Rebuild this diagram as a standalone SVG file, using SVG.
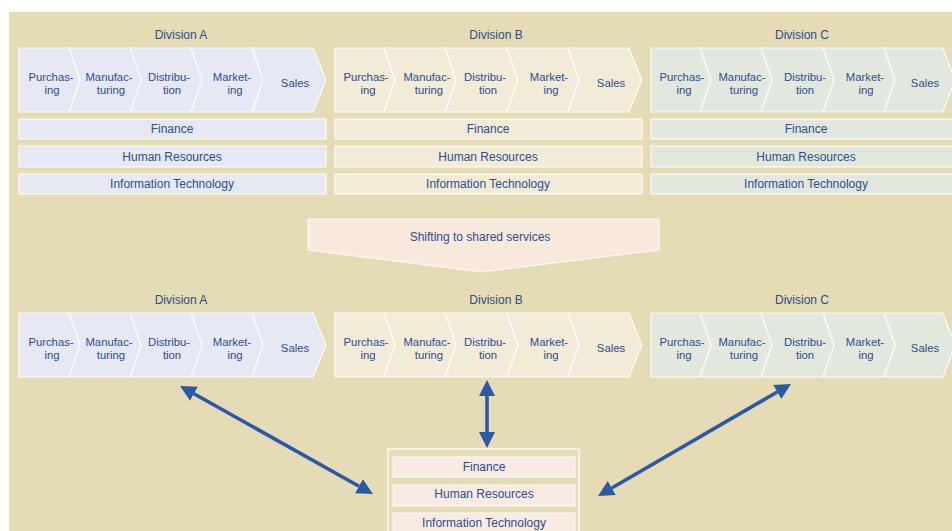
<svg xmlns="http://www.w3.org/2000/svg" width="952" height="531" viewBox="0 0 952 531">
<defs>
<style>
.t{font-family:"Liberation Sans",Arial,sans-serif;font-size:12px;fill:#2c4d8e;text-anchor:middle}
.s{font-size:11.3px}
.band{stroke:#ffffff;stroke-width:1.2;stroke-opacity:0.85}
.sep{fill:none;stroke:#ffffff;stroke-width:1.3;stroke-opacity:0.9}
.bar{stroke:#ffffff;stroke-width:1.2;stroke-opacity:0.85}
.a{fill:#e6e8f3}
.b{fill:#f2ebd8}
.c{fill:#e2e8de}
.arrow{fill:none;stroke:#2a59a7;stroke-width:3.6}
</style>
<marker id="ah" markerUnits="userSpaceOnUse" markerWidth="18" markerHeight="18" viewBox="0 -9 18 18" refX="0" refY="0" orient="auto-start-reverse">
<path d="M0,-8 L16,0 L0,8 Z" fill="#2a59a7"/>
</marker>
</defs>
<rect x="0" y="0" width="952" height="531" fill="#ffffff"/>
<rect x="9" y="12" width="943" height="519" fill="#e5dbb5"/>

<!-- Top row -->
<g id="top-division-a">
<text class="t" x="181" y="39">Division A</text>
<polygon class="band a" points="19,48 313,48 326,80 313,112 19,112"/>
<polyline class="sep" points="69,48 80,80 69,112"/>
<polyline class="sep" points="130,48 141,80 130,112"/>
<polyline class="sep" points="191,48 202,80 191,112"/>
<polyline class="sep" points="252,48 263,80 252,112"/>
<text class="t s" x="51" y="81">Purchas-</text>
<text class="t s" x="52" y="94">ing</text>
<text class="t s" x="109" y="81">Manufac-</text>
<text class="t s" x="111" y="94">turing</text>
<text class="t s" x="169" y="81">Distribu-</text>
<text class="t s" x="172" y="94">tion</text>
<text class="t s" x="232" y="81">Market-</text>
<text class="t s" x="235" y="94">ing</text>
<text class="t s" x="295" y="87">Sales</text>
<rect class="bar a" x="19" y="119" width="307" height="20"/>
<text class="t" x="172" y="133">Finance</text>
<rect class="bar a" x="19" y="146" width="307" height="21"/>
<text class="t" x="172" y="161">Human Resources</text>
<rect class="bar a" x="19" y="174" width="307" height="20"/>
<text class="t" x="172" y="188">Information Technology</text>
</g>

<g id="top-division-b">
<text class="t" x="496" y="39">Division B</text>
<polygon class="band b" points="335,48 629,48 642,80 629,112 335,112"/>
<polyline class="sep" points="384,48 395,80 384,112"/>
<polyline class="sep" points="445,48 456,80 445,112"/>
<polyline class="sep" points="507,48 518,80 507,112"/>
<polyline class="sep" points="568,48 579,80 568,112"/>
<text class="t s" x="366" y="81">Purchas-</text>
<text class="t s" x="368" y="94">ing</text>
<text class="t s" x="427" y="81">Manufac-</text>
<text class="t s" x="429" y="94">turing</text>
<text class="t s" x="485" y="81">Distribu-</text>
<text class="t s" x="488" y="94">tion</text>
<text class="t s" x="549" y="81">Market-</text>
<text class="t s" x="551" y="94">ing</text>
<text class="t s" x="611" y="87">Sales</text>
<rect class="bar b" x="335" y="119" width="307" height="20"/>
<text class="t" x="488" y="133">Finance</text>
<rect class="bar b" x="335" y="146" width="307" height="21"/>
<text class="t" x="488" y="161">Human Resources</text>
<rect class="bar b" x="335" y="174" width="307" height="20"/>
<text class="t" x="488" y="188">Information Technology</text>
</g>

<g id="top-division-c">
<text class="t" x="802" y="39">Division C</text>
<polygon class="band c" points="651,48 943,48 955,80 943,112 651,112"/>
<polyline class="sep" points="700,48 711,80 700,112"/>
<polyline class="sep" points="761,48 772,80 761,112"/>
<polyline class="sep" points="823,48 834,80 823,112"/>
<polyline class="sep" points="884,48 895,80 884,112"/>
<text class="t s" x="682" y="81">Purchas-</text>
<text class="t s" x="684" y="94">ing</text>
<text class="t s" x="742" y="81">Manufac-</text>
<text class="t s" x="744" y="94">turing</text>
<text class="t s" x="805" y="81">Distribu-</text>
<text class="t s" x="805" y="94">tion</text>
<text class="t s" x="865" y="81">Market-</text>
<text class="t s" x="866" y="94">ing</text>
<text class="t s" x="925" y="87">Sales</text>
<rect class="bar c" x="651" y="119" width="307" height="20"/>
<text class="t" x="806" y="133">Finance</text>
<rect class="bar c" x="651" y="146" width="307" height="21"/>
<text class="t" x="806" y="161">Human Resources</text>
<rect class="bar c" x="651" y="174" width="307" height="20"/>
<text class="t" x="806" y="188">Information Technology</text>
</g>

<g id="shift">
<polygon points="308,219 659,219 659,250 482,272 308,250" fill="#f8e9dc" stroke="#ffffff" stroke-width="1.2" stroke-opacity="0.8"/>
<text class="t" x="480" y="241">Shifting to shared services</text>
</g>

<!-- Bottom row -->
<g id="bottom-division-a">
<text class="t" x="181" y="304">Division A</text>
<polygon class="band a" points="19,313 313,313 326,345 313,377 19,377"/>
<polyline class="sep" points="69,313 80,345 69,377"/>
<polyline class="sep" points="130,313 141,345 130,377"/>
<polyline class="sep" points="191,313 202,345 191,377"/>
<polyline class="sep" points="252,313 263,345 252,377"/>
<text class="t s" x="51" y="346">Purchas-</text>
<text class="t s" x="52" y="359">ing</text>
<text class="t s" x="109" y="346">Manufac-</text>
<text class="t s" x="111" y="359">turing</text>
<text class="t s" x="169" y="346">Distribu-</text>
<text class="t s" x="172" y="359">tion</text>
<text class="t s" x="232" y="346">Market-</text>
<text class="t s" x="235" y="359">ing</text>
<text class="t s" x="295" y="352">Sales</text>
</g>

<g id="bottom-division-b">
<text class="t" x="496" y="304">Division B</text>
<polygon class="band b" points="335,313 629,313 642,345 629,377 335,377"/>
<polyline class="sep" points="384,313 395,345 384,377"/>
<polyline class="sep" points="445,313 456,345 445,377"/>
<polyline class="sep" points="507,313 518,345 507,377"/>
<polyline class="sep" points="568,313 579,345 568,377"/>
<text class="t s" x="366" y="346">Purchas-</text>
<text class="t s" x="368" y="359">ing</text>
<text class="t s" x="427" y="346">Manufac-</text>
<text class="t s" x="429" y="359">turing</text>
<text class="t s" x="485" y="346">Distribu-</text>
<text class="t s" x="488" y="359">tion</text>
<text class="t s" x="549" y="346">Market-</text>
<text class="t s" x="551" y="359">ing</text>
<text class="t s" x="611" y="352">Sales</text>
</g>

<g id="bottom-division-c">
<text class="t" x="802" y="304">Division C</text>
<polygon class="band c" points="651,313 943,313 955,345 943,377 651,377"/>
<polyline class="sep" points="700,313 711,345 700,377"/>
<polyline class="sep" points="761,313 772,345 761,377"/>
<polyline class="sep" points="823,313 834,345 823,377"/>
<polyline class="sep" points="884,313 895,345 884,377"/>
<text class="t s" x="682" y="346">Purchas-</text>
<text class="t s" x="684" y="359">ing</text>
<text class="t s" x="742" y="346">Manufac-</text>
<text class="t s" x="744" y="359">turing</text>
<text class="t s" x="805" y="346">Distribu-</text>
<text class="t s" x="805" y="359">tion</text>
<text class="t s" x="865" y="346">Market-</text>
<text class="t s" x="866" y="359">ing</text>
<text class="t s" x="925" y="352">Sales</text>
</g>

<g id="shared-services">
<rect x="388" y="449" width="191" height="90" fill="none" stroke="#ffffff" stroke-width="1.4" stroke-opacity="0.85"/>
<rect class="bar" x="393" y="457" width="182" height="20" fill="#f9ebe2"/>
<text class="t" x="484" y="471">Finance</text>
<rect class="bar" x="393" y="485" width="182" height="21" fill="#f9ebe2"/>
<text class="t" x="484" y="498">Human Resources</text>
<rect class="bar" x="393" y="513" width="182" height="24" fill="#f9ebe2"/>
<text class="t" x="484" y="527">Information Technology</text>
</g>

<g id="connectors">
<path class="arrow" d="M487,396 L487,432" marker-start="url(#ah)" marker-end="url(#ah)"/>
<path class="arrow" d="M194,393.8 L359,486.2" marker-start="url(#ah)" marker-end="url(#ah)"/>
<path class="arrow" d="M777.2,392 L611.8,488" marker-start="url(#ah)" marker-end="url(#ah)"/>
</g>
</svg>
